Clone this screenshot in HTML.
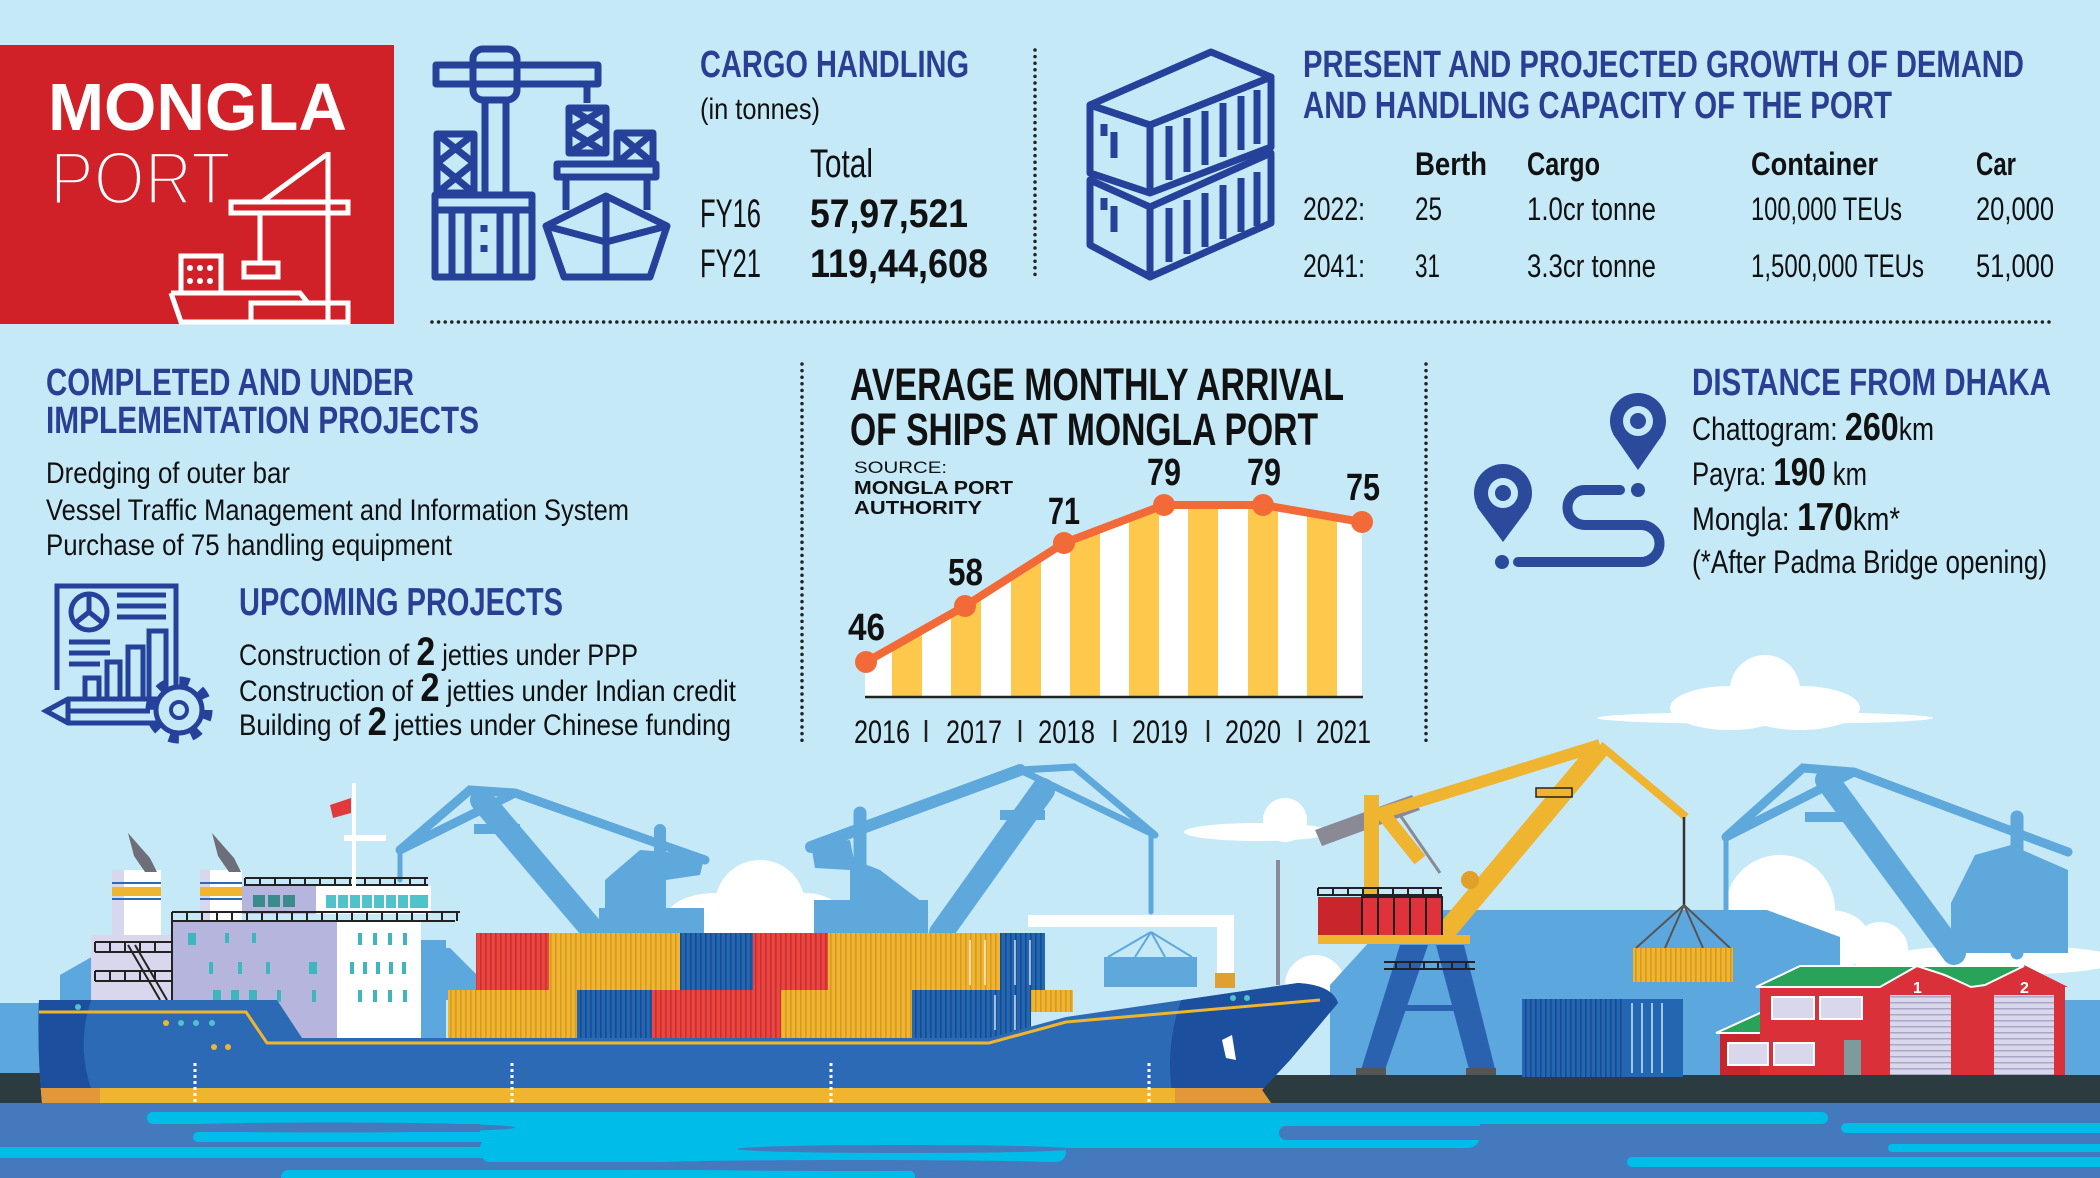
<!DOCTYPE html>
<html><head><meta charset="utf-8"><style>
html,body{margin:0;padding:0;background:#c6e9f8;}
svg{display:block;}
text{font-family:"Liberation Sans",Arial,sans-serif;}
</style></head><body>
<svg width="2100" height="1178" viewBox="0 0 2100 1178" xmlns="http://www.w3.org/2000/svg">
<defs>
<pattern id="pr" width="5" height="10" patternUnits="userSpaceOnUse"><rect width="5" height="10" fill="#ea4541"/><rect width="1.6" height="10" fill="#c7302f"/></pattern>
<pattern id="py" width="5" height="10" patternUnits="userSpaceOnUse"><rect width="5" height="10" fill="#efb430"/><rect width="1.6" height="10" fill="#d69a22"/></pattern>
<pattern id="pb" width="5" height="10" patternUnits="userSpaceOnUse"><rect width="5" height="10" fill="#2367b2"/><rect width="1.6" height="10" fill="#174a8e"/></pattern>
<pattern id="pd" width="6" height="6" patternUnits="userSpaceOnUse"><rect width="6" height="6" fill="#d9d7ec"/><rect width="6" height="1.5" fill="#a9a7c8"/></pattern>
<clipPath id="area"><polygon points="865,697 865,662 964,607 1063,544 1164,506 1263,506 1362,522 1362,697"/></clipPath>
<clipPath id="hullc"><path d="M39,1000 L277,1000 L302,1038 L989,1038 L1066,1017 L1298,983 Q1332,985 1338,1003 L1290,1060 L1262,1090 L1271,1103 L42,1103 Q37,1050 39,1000 Z"/></clipPath>
</defs>
<rect width="2100" height="1178" fill="#c6e9f8"/>

<!-- ===== RED TITLE BOX ===== -->
<rect x="0" y="45" width="394" height="279" fill="#d12128"/>
<text x="48" y="130" font-size="67" font-weight="bold" fill="#fff" textLength="299" lengthAdjust="spacingAndGlyphs">MONGLA</text>
<text x="50" y="204" font-size="75" fill="#fff" stroke="#d12128" stroke-width="3.5" textLength="181" lengthAdjust="spacingAndGlyphs">PORT</text>
<g stroke="#fff" stroke-width="5" fill="none">
<line x1="328" y1="152" x2="328" y2="322"/>
<rect x="231" y="202" width="117" height="11"/>
<line x1="262" y1="202" x2="326" y2="155"/>
<line x1="260" y1="213" x2="260" y2="263"/>
<rect x="244" y="263" width="34" height="14"/>
<rect x="251" y="303" width="97" height="19"/>
<rect x="181" y="256" width="40" height="37"/>
<path d="M171,293 H300 L308,303 M171,293 L181,322 H251"/>
</g>
<g fill="#fff"><circle cx="190" cy="268" r="3"/><circle cx="200" cy="268" r="3"/><circle cx="210" cy="268" r="3"/><circle cx="190" cy="281" r="3"/><circle cx="200" cy="281" r="3"/><circle cx="210" cy="281" r="3"/></g>

<!-- ===== CARGO CRANE ICON ===== -->
<g stroke="#26419a" stroke-width="7" fill="none" stroke-linejoin="round">
<rect x="436" y="65" width="162" height="19"/>
<rect x="473" y="49" width="44" height="51" rx="10"/>
<line x1="485" y1="100" x2="485" y2="193"/><line x1="506" y1="100" x2="506" y2="193"/>
<rect x="437" y="134" width="37" height="59"/>
<path d="M437,134 L474,163 M474,134 L437,163 M437,163 L474,193 M474,163 L437,193"/>
<rect x="435" y="195" width="97" height="82"/>
<line x1="435" y1="210" x2="532" y2="210"/>
<path d="M452,212 V277 M468,212 V277 M500,212 V277 M516,212 V277 M484,225 V232 M484,245 V252"/>
<line x1="587" y1="84" x2="587" y2="103"/>
<rect x="569" y="108" width="37" height="45"/>
<path d="M569,108 L606,130 M606,108 L569,130 M569,130 L606,153 M606,130 L569,153"/>
<rect x="617" y="133" width="36" height="30"/>
<path d="M617,133 L653,163 M653,133 L617,163"/>
<rect x="557" y="164" width="99" height="13"/>
<line x1="566" y1="177" x2="566" y2="210"/><line x1="647" y1="177" x2="647" y2="210"/>
<path d="M546,226 L606,196 L667,226 L650,277 L564,277 Z"/>
<path d="M606,196 V277 M546,226 L606,242 L667,226"/>
</g>

<text x="700" y="77" font-size="38" font-weight="bold" fill="#2a3f93" textLength="269" lengthAdjust="spacingAndGlyphs">CARGO HANDLING</text>
<text x="700" y="119" font-size="30" fill="#111" textLength="120" lengthAdjust="spacingAndGlyphs">(in tonnes)</text>
<text x="810" y="177" font-size="40" fill="#111" textLength="63" lengthAdjust="spacingAndGlyphs">Total</text>
<text x="700" y="227" font-size="40" fill="#111" textLength="61" lengthAdjust="spacingAndGlyphs">FY16</text>
<text x="810" y="227" font-size="40" font-weight="bold" fill="#111" textLength="158" lengthAdjust="spacingAndGlyphs">57,97,521</text>
<text x="700" y="277" font-size="40" fill="#111" textLength="61" lengthAdjust="spacingAndGlyphs">FY21</text>
<text x="810" y="277" font-size="40" font-weight="bold" fill="#111" textLength="178" lengthAdjust="spacingAndGlyphs">119,44,608</text>

<!-- dotted lines -->
<g stroke="#222" stroke-width="3.5" stroke-linecap="round" stroke-dasharray="0 6.6">
<line x1="1035" y1="50" x2="1035" y2="277"/>
<line x1="432" y1="322" x2="2054" y2="322"/>
<line x1="802" y1="364" x2="802" y2="743"/>
<line x1="1426" y1="364" x2="1426" y2="743"/>
</g>

<!-- ===== CONTAINER ICON ===== -->
<g stroke="#26419a" stroke-width="7" fill="none" stroke-linejoin="round">
<polygon points="1090,180 1150,207 1271,153 1271,223 1150,277 1090,245"/>
<line x1="1150" y1="207" x2="1150" y2="277"/>
<polygon points="1090,105 1211,52 1271,77 1150,125"/>
<polygon points="1090,105 1150,125 1271,77 1271,147 1150,193 1090,173"/>
<line x1="1150" y1="125" x2="1150" y2="193"/>
<path d="M1169,126 V180 M1187,118 V172 M1205,111 V165 M1223,103 V157 M1241,96 V150 M1257,90 V144"/>
<path d="M1169,208 V262 M1187,200 V254 M1205,193 V247 M1223,185 V239 M1241,178 V232 M1257,172 V226"/>
<path d="M1104,124 V136 M1114,132 V158 M1104,198 V210 M1114,206 V232"/>
</g>

<text x="1303" y="77" font-size="38" font-weight="bold" fill="#2a3f93" textLength="721" lengthAdjust="spacingAndGlyphs">PRESENT AND PROJECTED GROWTH OF DEMAND</text>
<text x="1303" y="118" font-size="38" font-weight="bold" fill="#2a3f93" textLength="589" lengthAdjust="spacingAndGlyphs">AND HANDLING CAPACITY OF THE PORT</text>
<g font-size="32" fill="#111">
<text x="1415" y="175" font-weight="bold" textLength="72" lengthAdjust="spacingAndGlyphs">Berth</text>
<text x="1527" y="175" font-weight="bold" textLength="73" lengthAdjust="spacingAndGlyphs">Cargo</text>
<text x="1751" y="175" font-weight="bold" textLength="127" lengthAdjust="spacingAndGlyphs">Container</text>
<text x="1976" y="175" font-weight="bold" textLength="40" lengthAdjust="spacingAndGlyphs">Car</text>
<text x="1303" y="220" textLength="62" lengthAdjust="spacingAndGlyphs">2022:</text>
<text x="1415" y="220" textLength="27" lengthAdjust="spacingAndGlyphs">25</text>
<text x="1527" y="220" textLength="129" lengthAdjust="spacingAndGlyphs">1.0cr tonne</text>
<text x="1751" y="220" textLength="151" lengthAdjust="spacingAndGlyphs">100,000 TEUs</text>
<text x="1976" y="220" textLength="78" lengthAdjust="spacingAndGlyphs">20,000</text>
<text x="1303" y="277" textLength="62" lengthAdjust="spacingAndGlyphs">2041:</text>
<text x="1415" y="277" textLength="25" lengthAdjust="spacingAndGlyphs">31</text>
<text x="1527" y="277" textLength="129" lengthAdjust="spacingAndGlyphs">3.3cr tonne</text>
<text x="1751" y="277" textLength="173" lengthAdjust="spacingAndGlyphs">1,500,000 TEUs</text>
<text x="1976" y="277" textLength="78" lengthAdjust="spacingAndGlyphs">51,000</text>
</g>

<!-- ===== PROJECTS ===== -->
<text x="46" y="395" font-size="38" font-weight="bold" fill="#2a3f93" textLength="368" lengthAdjust="spacingAndGlyphs">COMPLETED AND UNDER</text>
<text x="46" y="433" font-size="38" font-weight="bold" fill="#2a3f93" textLength="433" lengthAdjust="spacingAndGlyphs">IMPLEMENTATION PROJECTS</text>
<g font-size="30" fill="#111">
<text x="46" y="483" textLength="244" lengthAdjust="spacingAndGlyphs">Dredging of outer bar</text>
<text x="46" y="520" textLength="583" lengthAdjust="spacingAndGlyphs">Vessel Traffic Management and Information System</text>
<text x="46" y="555" textLength="406" lengthAdjust="spacingAndGlyphs">Purchase of 75 handling equipment</text>
</g>
<text x="239" y="615" font-size="39" font-weight="bold" fill="#2a3f93" textLength="324" lengthAdjust="spacingAndGlyphs">UPCOMING PROJECTS</text>
<g font-size="30" fill="#111">
<text x="239" y="665" textLength="399" lengthAdjust="spacingAndGlyphs">Construction of <tspan font-weight="bold" font-size="40">2</tspan> jetties under PPP</text>
<text x="239" y="701" textLength="497" lengthAdjust="spacingAndGlyphs">Construction of <tspan font-weight="bold" font-size="40">2</tspan> jetties under Indian credit</text>
<text x="239" y="735" textLength="492" lengthAdjust="spacingAndGlyphs">Building of <tspan font-weight="bold" font-size="40">2</tspan> jetties under Chinese funding</text>
</g>
<!-- upcoming icon -->
<g stroke="#26419a" stroke-width="5" fill="none">
<path d="M57,690 V586 H176 V690"/>
<circle cx="89" cy="612" r="18"/>
<path d="M89,594 V612 L74,624 M89,612 L104,624"/>
<path d="M117,595 H166 M117,606 H166 M117,617 H166 M69,642 H110 M69,653 H110 M69,664 H100"/>
<path d="M85,697 V678 H99 V697 M107,697 V662 H120 V697 M128,697 V647 H143 V697 M149,697 V631 H166 V697"/>
<path d="M46,711 L68,699 H165 V723 H68 Z M68,699 V723 M68,711 H150"/>
<circle cx="179" cy="710" r="23" fill="#c6e9f8"/>
<circle cx="179" cy="710" r="29" stroke-width="9" stroke-dasharray="10 12.8"/>
<circle cx="179" cy="710" r="8" stroke-width="4"/>
</g>

<!-- ===== CHART ===== -->
<text x="850" y="400" font-size="45" font-weight="bold" fill="#111" textLength="494" lengthAdjust="spacingAndGlyphs">AVERAGE MONTHLY ARRIVAL</text>
<text x="850" y="445" font-size="45" font-weight="bold" fill="#111" textLength="468" lengthAdjust="spacingAndGlyphs">OF SHIPS AT MONGLA PORT</text>
<text x="854" y="473" font-size="17" fill="#111" textLength="93" lengthAdjust="spacingAndGlyphs">SOURCE:</text>
<text x="854" y="494" font-size="18" font-weight="bold" fill="#111" textLength="159" lengthAdjust="spacingAndGlyphs">MONGLA PORT</text>
<text x="854" y="514" font-size="18" font-weight="bold" fill="#111" textLength="128" lengthAdjust="spacingAndGlyphs">AUTHORITY</text>
<g clip-path="url(#area)">
<rect x="865" y="480" width="498" height="217" fill="#fff"/>
<g fill="#fdc84b">
<rect x="892" y="480" width="30" height="217"/><rect x="951" y="480" width="30" height="217"/><rect x="1011" y="480" width="30" height="217"/><rect x="1070" y="480" width="30" height="217"/><rect x="1129" y="480" width="30" height="217"/><rect x="1188" y="480" width="30" height="217"/><rect x="1248" y="480" width="30" height="217"/><rect x="1307" y="480" width="30" height="217"/>
</g></g>
<line x1="865" y1="697" x2="1363" y2="697" stroke="#222" stroke-width="2.5"/>
<polyline points="866,662 965,606 1064,543 1164,505 1263,505 1362,522" fill="none" stroke="#f26a37" stroke-width="8" stroke-linejoin="round"/>
<g fill="#f26a37"><circle cx="866" cy="662" r="11"/><circle cx="965" cy="606" r="11"/><circle cx="1064" cy="543" r="11"/><circle cx="1164" cy="505" r="11"/><circle cx="1263" cy="505" r="11"/><circle cx="1362" cy="522" r="11"/></g>
<g font-size="38" font-weight="bold" fill="#111">
<text x="848" y="640" textLength="37" lengthAdjust="spacingAndGlyphs">46</text>
<text x="948" y="585" textLength="35" lengthAdjust="spacingAndGlyphs">58</text>
<text x="1048" y="524" textLength="32" lengthAdjust="spacingAndGlyphs">71</text>
<text x="1147" y="485" textLength="34" lengthAdjust="spacingAndGlyphs">79</text>
<text x="1247" y="485" textLength="34" lengthAdjust="spacingAndGlyphs">79</text>
<text x="1346" y="500" textLength="34" lengthAdjust="spacingAndGlyphs">75</text>
</g>
<g font-size="32" fill="#111">
<text x="854" y="743" textLength="56" lengthAdjust="spacingAndGlyphs">2016</text>
<text x="946" y="743" textLength="56" lengthAdjust="spacingAndGlyphs">2017</text>
<text x="1038" y="743" textLength="57" lengthAdjust="spacingAndGlyphs">2018</text>
<text x="1132" y="743" textLength="56" lengthAdjust="spacingAndGlyphs">2019</text>
<text x="1225" y="743" textLength="56" lengthAdjust="spacingAndGlyphs">2020</text>
<text x="1316" y="743" textLength="55" lengthAdjust="spacingAndGlyphs">2021</text>
</g>
<g stroke="#222" stroke-width="2.5"><line x1="926" y1="720" x2="926" y2="742"/><line x1="1020" y1="720" x2="1020" y2="742"/><line x1="1115" y1="720" x2="1115" y2="742"/><line x1="1208" y1="720" x2="1208" y2="742"/><line x1="1300" y1="720" x2="1300" y2="742"/></g>

<!-- ===== DISTANCE ===== -->
<text x="1692" y="395" font-size="38" font-weight="bold" fill="#2a3f93" textLength="359" lengthAdjust="spacingAndGlyphs">DISTANCE FROM DHAKA</text>
<g font-size="32" fill="#111">
<text x="1692" y="440" textLength="242" lengthAdjust="spacingAndGlyphs">Chattogram: <tspan font-weight="bold" font-size="39">260</tspan>km</text>
<text x="1692" y="485" textLength="175" lengthAdjust="spacingAndGlyphs">Payra: <tspan font-weight="bold" font-size="39">190</tspan> km</text>
<text x="1692" y="530" textLength="208" lengthAdjust="spacingAndGlyphs">Mongla: <tspan font-weight="bold" font-size="39">170</tspan>km*</text>
<text x="1692" y="573" textLength="355" lengthAdjust="spacingAndGlyphs">(*After Padma Bridge opening)</text>
</g>
<g fill="#2b4a9c">
<circle cx="1638" cy="421" r="28"/><polygon points="1613,434 1663,434 1638,470"/>
<circle cx="1503" cy="493" r="29"/><polygon points="1477,507 1529,507 1503,542"/>
<circle cx="1502" cy="562" r="7"/><circle cx="1638" cy="490" r="7"/>
</g>
<g fill="#c6e9f8"><circle cx="1638" cy="421" r="15"/><circle cx="1503" cy="493" r="15"/></g>
<g fill="#2b4a9c"><circle cx="1638" cy="421" r="8"/><circle cx="1503" cy="493" r="8"/></g>
<path d="M1518,562 H1641 A18.5,18.5 0 0 0 1641,525 H1585 A17.5,17.5 0 0 1 1585,490 H1620" fill="none" stroke="#2b4a9c" stroke-width="10" stroke-linecap="round"/>

<!-- ===== BOTTOM ILLUSTRATION ===== -->
<!-- clouds -->
<g fill="#fff">
<circle cx="1765" cy="690" r="35"/><ellipse cx="1730" cy="708" rx="60" ry="22"/><ellipse cx="1800" cy="708" rx="60" ry="22"/><ellipse cx="1765" cy="718" rx="168" ry="6"/>
<circle cx="760" cy="905" r="45"/><ellipse cx="715" cy="920" rx="50" ry="27"/><ellipse cx="805" cy="920" rx="40" ry="27"/>
<circle cx="1285" cy="820" r="22"/><ellipse cx="1258" cy="832" rx="74" ry="9"/>
<circle cx="1780" cy="910" r="55"/><ellipse cx="1830" cy="940" rx="40" ry="30"/>
<circle cx="1880" cy="950" r="28"/><ellipse cx="2000" cy="960" rx="120" ry="15"/>
<circle cx="1315" cy="985" r="30"/>
</g>
<!-- background buildings -->
<g fill="#5ca7dd">
<rect x="0" y="1003" width="40" height="72"/>
<polygon points="60,1003 60,975 95,955 175,955 175,1003"/>
<polygon points="421,1000 421,948 450,948 477,975 477,1000"/>
<polygon points="1330,1075 1330,985 1371,940 1371,910 1767,910 1840,937 1840,1075"/>
<rect x="2060" y="1000" width="40" height="75"/>
</g>
<!-- light-blue cranes -->
<g stroke="#5ea8dc" fill="none" stroke-linecap="round">
<line x1="400" y1="850" x2="400" y2="880" stroke-width="5"/>
<path d="M400,850 L470,790 L515,793 L705,860 M400,850 L515,793" stroke-width="9"/>
<line x1="482" y1="800" x2="595" y2="933" stroke-width="24"/>
<line x1="660" y1="830" x2="660" y2="933" stroke-width="12"/>
<line x1="811" y1="847" x2="1020" y2="770" stroke-width="12"/>
<path d="M1020,770 L1074,767 L1155,835 M1020,770 L1155,835" stroke-width="7"/>
<line x1="1151" y1="835" x2="1151" y2="912" stroke-width="5"/>
<line x1="1043" y1="790" x2="941" y2="933" stroke-width="24"/>
<line x1="860" y1="813" x2="860" y2="933" stroke-width="13"/>
<line x1="1726" y1="837" x2="1726" y2="910" stroke-width="5"/>
<path d="M1726,837 L1803,768 L1854,772 L2068,852 M1726,837 L1854,772" stroke-width="9"/>
<line x1="1827" y1="780" x2="1954" y2="953" stroke-width="24"/>
<line x1="2017" y1="817" x2="2017" y2="953" stroke-width="13"/>
</g>
<g fill="#5ea8dc">
<polygon points="605,933 605,880 640,850 705,855 700,875 666,880 666,933"/>
<rect x="599" y="908" width="105" height="25"/>
<rect x="474" y="824" width="46" height="10"/>
<polygon points="811,845 850,840 854,860 880,870 926,905 928,933 850,933 850,870 815,868"/>
<rect x="814" y="900" width="114" height="33"/>
<rect x="1000" y="810" width="45" height="10"/>
<rect x="1951" y="903" width="117" height="50"/>
<polygon points="1951,903 1975,855 2011,845 2068,870 2068,903"/>
<rect x="1805" y="812" width="45" height="10"/>
</g>
<!-- dock -->
<rect x="0" y="1073" width="47" height="30" fill="#2c3b3f"/>
<rect x="1252" y="1075" width="848" height="28" fill="#2c3b3f"/>

<!-- containers -->
<rect x="476" y="933" width="73" height="57" fill="url(#pr)"/>
<rect x="549" y="933" width="131" height="57" fill="url(#py)"/>
<rect x="680" y="933" width="73" height="57" fill="url(#pb)"/>
<rect x="753" y="933" width="75" height="57" fill="url(#pr)"/>
<rect x="828" y="933" width="130" height="57" fill="url(#py)"/>
<rect x="958" y="933" width="42" height="57" fill="url(#py)"/>
<rect x="1000" y="933" width="45" height="57" fill="url(#pb)"/>
<rect x="448" y="990" width="129" height="48" fill="url(#py)"/>
<rect x="577" y="990" width="75" height="48" fill="url(#pb)"/>
<rect x="652" y="990" width="129" height="48" fill="url(#pr)"/>
<rect x="781" y="990" width="131" height="48" fill="url(#py)"/>
<rect x="912" y="990" width="74" height="48" fill="url(#pb)"/>
<rect x="986" y="990" width="45" height="48" fill="url(#pb)"/>
<rect x="1031" y="990" width="42" height="22" fill="url(#py)"/>
<g stroke="#fff" stroke-width="1.5" opacity="0.8"><path d="M970,940 V985 M985,940 V985 M1015,940 V985 M1030,940 V985 M995,995 V1030 M1015,995 V1030"/></g>

<!-- white gantry near bow -->
<rect x="1028" y="915" width="203" height="12" fill="#fff"/>
<rect x="1217" y="915" width="17" height="58" fill="#fff"/>
<rect x="1104" y="957" width="93" height="30" fill="#5ea8dc"/>
<path d="M1151,932 L1108,957 M1151,932 L1192,957 M1151,932 L1135,957 M1151,932 L1165,957" stroke="#5ea8dc" stroke-width="2" fill="none"/>
<line x1="1278" y1="860" x2="1278" y2="985" stroke="#8a8a9a" stroke-width="4"/>
<rect x="1215" y="973" width="20" height="15" fill="#e0a030"/>

<!-- superstructure -->
<rect x="112" y="870" width="49" height="130" fill="#fff"/>
<rect x="112" y="870" width="12" height="130" fill="#d8d7ee"/>
<rect x="200" y="870" width="42" height="130" fill="#fff"/>
<rect x="200" y="870" width="10" height="130" fill="#d8d7ee"/>
<g fill="#efb430"><rect x="112" y="887" width="49" height="9"/><rect x="200" y="887" width="42" height="9"/></g>
<g fill="#2c6ab5"><rect x="112" y="882" width="49" height="2"/><rect x="112" y="898" width="49" height="2"/><rect x="200" y="882" width="42" height="2"/><rect x="200" y="898" width="42" height="2"/></g>
<g fill="#6e6e7a"><polygon points="128,833 150,858 157,872 145,872 134,856"/><polygon points="212,833 234,858 241,872 229,872 218,856"/></g>
<rect x="91" y="935" width="81" height="65" fill="#d8d7ee"/>
<rect x="172" y="920" width="165" height="118" fill="#b6b5de"/>
<rect x="337" y="920" width="84" height="118" fill="#fff"/>
<rect x="421" y="940" width="25" height="98" fill="#5ca7dd"/>
<rect x="242" y="886" width="74" height="28" fill="#b6b5de"/>
<rect x="316" y="886" width="115" height="28" fill="#fff"/>
<g fill="#3b8a8c"><rect x="253" y="895" width="12" height="12"/><rect x="268" y="895" width="12" height="12"/><rect x="283" y="895" width="12" height="12"/></g>
<rect x="326" y="895" width="102" height="13" fill="#4fc3c9"/>
<g stroke="#fff" stroke-width="2"><path d="M337,895 V908 M349,895 V908 M361,895 V908 M373,895 V908 M385,895 V908 M397,895 V908 M409,895 V908"/></g>
<g fill="#3fb5bd"><rect x="188" y="933" width="8" height="12"/><rect x="225" y="933" width="4" height="10"/><rect x="252" y="933" width="4" height="10"/><rect x="358" y="933" width="4" height="12"/><rect x="373" y="933" width="4" height="12"/><rect x="388" y="933" width="4" height="12"/><rect x="403" y="933" width="4" height="12"/>
<rect x="209" y="962" width="4" height="12"/><rect x="238" y="962" width="4" height="12"/><rect x="266" y="962" width="4" height="12"/><rect x="309" y="962" width="8" height="12"/><rect x="350" y="962" width="4" height="12"/><rect x="363" y="962" width="4" height="12"/><rect x="376" y="962" width="4" height="12"/><rect x="389" y="962" width="4" height="12"/><rect x="402" y="962" width="4" height="12"/>
<rect x="213" y="990" width="8" height="12"/><rect x="231" y="990" width="8" height="12"/><rect x="249" y="990" width="8" height="12"/><rect x="277" y="990" width="4" height="12"/><rect x="312" y="990" width="4" height="12"/><rect x="358" y="990" width="4" height="12"/><rect x="373" y="990" width="4" height="12"/><rect x="388" y="990" width="4" height="12"/><rect x="403" y="990" width="4" height="12"/></g>
<g stroke="#222" stroke-width="2" fill="none">
<path d="M245,878 H428 M245,885 H428" /><path d="M245,878 V886 M260,878 V886 M275,878 V886 M290,878 V886 M305,878 V886 M320,878 V886 M335,878 V886 M350,878 V886 M365,878 V886 M380,878 V886 M395,878 V886 M410,878 V886 M425,878 V886"/>
<path d="M172,912 H460 M172,921 H455"/><path d="M172,912 V921 M187,912 V921 M202,912 V921 M217,912 V921 M232,912 V921 M247,912 V921 M262,912 V921 M277,912 V921 M292,912 V921 M307,912 V921 M322,912 V921 M337,912 V921 M352,912 V921 M367,912 V921 M382,912 V921 M397,912 V921 M412,912 V921 M427,912 V921 M442,912 V921 M457,912 V921"/>
<path d="M95,942 H172 M95,952 H172 M95,971 H172 M95,981 H172 M95,942 V952 M110,942 V952 M125,942 V952 M140,942 V952 M155,942 V952 M95,971 V981 M110,971 V981 M125,971 V981 M140,971 V981 M155,971 V981"/>
<path d="M128,945 L160,1000 M135,945 L167,1000 M172,920 V1000"/>
</g>
<line x1="354" y1="783" x2="354" y2="887" stroke="#fff" stroke-width="4"/>
<rect x="344" y="835" width="42" height="6" fill="#fff"/>
<polygon points="330,805 351,798 351,813 333,818" fill="#e03a3a"/>

<!-- hull -->
<path d="M39,1000 L277,1000 L302,1038 L989,1038 L1066,1017 L1298,983 Q1332,985 1338,1003 L1290,1060 L1262,1090 L1271,1103 L42,1103 Q37,1050 39,1000 Z" fill="#2c6ab5"/>
<g clip-path="url(#hullc)">
<path d="M30,990 L95,990 Q70,1050 100,1110 L30,1110 Z" fill="#1c4f9e"/>
<path d="M1190,980 L1350,980 L1350,1110 L1175,1110 Q1160,1040 1190,980 Z" fill="#1c4f9e"/>
<rect x="0" y="1088" width="1400" height="16" fill="#f0b52e"/>
<rect x="0" y="1088" width="100" height="16" fill="#e0983a"/>
<rect x="1175" y="1088" width="200" height="16" fill="#e0983a"/>
</g>
<polyline points="39,1012 246,1012 267,1043 989,1043 1066,1022 1320,1000" fill="none" stroke="#f0b52e" stroke-width="3"/>
<g fill="#f0b52e"><circle cx="166" cy="1023" r="3"/><circle cx="214" cy="1047" r="3"/><circle cx="228" cy="1047" r="3"/></g>
<g fill="#4fc3c9"><circle cx="181" cy="1023" r="3"/><circle cx="196" cy="1023" r="3"/><circle cx="212" cy="1023" r="3"/><circle cx="78" cy="1007" r="3"/><circle cx="1233" cy="998" r="3"/><circle cx="1247" cy="998" r="3"/></g>
<g stroke="#fff" stroke-width="3" stroke-dasharray="3 3"><line x1="195" y1="1063" x2="195" y2="1103"/><line x1="512" y1="1063" x2="512" y2="1103"/><line x1="831" y1="1063" x2="831" y2="1103"/><line x1="1149" y1="1063" x2="1149" y2="1103"/></g>
<polygon points="1222,1040 1232,1035 1236,1060 1226,1058" fill="#fff"/>

<!-- yellow crane -->
<polygon points="1315,830 1412,795 1420,810 1322,846" fill="#8a8a96"/>
<rect x="1364" y="795" width="15" height="105" fill="#efb430"/>
<line x1="1375" y1="815" x2="1600" y2="745" stroke="#efb430" stroke-width="12"/>
<line x1="1443" y1="935" x2="1600" y2="748" stroke="#efb430" stroke-width="20"/>
<line x1="1600" y1="745" x2="1686" y2="817" stroke="#efb430" stroke-width="8"/>
<line x1="1420" y1="860" x2="1380" y2="810" stroke="#efb430" stroke-width="14"/>
<line x1="1440" y1="873" x2="1400" y2="815" stroke="#8a8a96" stroke-width="3"/>
<circle cx="1470" cy="880" r="9" fill="#e0a02a"/>
<line x1="1684" y1="817" x2="1684" y2="905" stroke="#333" stroke-width="2.5"/>
<rect x="1536" y="788" width="36" height="9" fill="#efb430" stroke="#222" stroke-width="1.5"/>
<rect x="1318" y="897" width="124" height="40" fill="#c9252c"/>
<rect x="1362" y="897" width="80" height="40" fill="#e0323a" stroke="#222" stroke-width="2"/>
<path d="M1378,897 V937 M1394,897 V937 M1410,897 V937 M1426,897 V937" stroke="#222" stroke-width="2"/>
<path d="M1318,888 H1442 M1318,895 H1442 M1318,888 V896 M1333,888 V896 M1348,888 V896 M1363,888 V896 M1378,888 V896 M1393,888 V896 M1408,888 V896 M1423,888 V896 M1438,888 V896" stroke="#222" stroke-width="2" fill="none"/>
<rect x="1318" y="935" width="152" height="9" fill="#efb430"/>
<g fill="#2a62b0">
<polygon points="1400,945 1428,945 1384,1073 1360,1073"/>
<polygon points="1436,945 1464,945 1496,1073 1470,1073"/>
<rect x="1395" y="1005" width="75" height="6"/>
</g>
<g fill="#555"><rect x="1356" y="1068" width="30" height="7"/><rect x="1466" y="1068" width="30" height="7"/></g>
<path d="M1384,962 H1475 M1384,969 H1475 M1396,962 V969 M1410,962 V969 M1424,962 V969 M1438,962 V969 M1452,962 V969 M1466,962 V969" stroke="#222" stroke-width="2" fill="none"/>
<path d="M1684,905 L1636,948 M1684,905 L1730,948 M1684,905 L1665,948 M1684,905 L1703,948" stroke="#555" stroke-width="2" fill="none"/>
<rect x="1633" y="948" width="100" height="34" fill="url(#py)"/>

<!-- dock container -->
<rect x="1522" y="999" width="100" height="78" fill="url(#pb)"/>
<rect x="1622" y="999" width="61" height="78" fill="#2367b2"/>
<path d="M1632,1003 V1073 M1642,1003 V1073 M1652,1003 V1073 M1662,1003 V1073" stroke="#9cc7ef" stroke-width="2"/>

<!-- warehouse -->
<rect x="1720" y="1030" width="150" height="45" fill="#c9252c"/>
<polygon points="1716,1033 1760,1013 1870,1013 1820,1033" fill="#2aa35a" stroke="#fff" stroke-width="2"/>
<rect x="1760" y="987" width="305" height="88" fill="#d9303a"/>
<polygon points="1862,987 1917,965 1971,987 2024,965 2068,987" fill="#d9303a"/>
<polygon points="1756,987 1800,966 1917,966 1880,987" fill="#2aa35a" stroke="#fff" stroke-width="2"/>
<polygon points="1917,966 2024,966 1985,985 1971,987 1945,975" fill="#2aa35a" stroke="#fff" stroke-width="2"/>
<rect x="1890" y="995" width="61" height="80" fill="url(#pd)"/>
<rect x="1994" y="995" width="60" height="80" fill="url(#pd)"/>
<rect x="1844" y="1040" width="17" height="35" fill="#7d9a9e"/>
<g fill="#d9d7ec" stroke="#fff" stroke-width="2"><rect x="1772" y="997" width="42" height="22"/><rect x="1820" y="997" width="42" height="22"/><rect x="1728" y="1043" width="40" height="22"/><rect x="1774" y="1043" width="40" height="22"/></g>
<text x="1913" y="993" font-size="16" font-weight="bold" fill="#fff">1</text>
<text x="2020" y="993" font-size="16" font-weight="bold" fill="#fff">2</text>

<!-- water -->
<rect x="0" y="1103" width="2100" height="75" fill="#4479bd"/>
<g fill="#00bce8">
<rect x="147" y="1112" width="1681" height="12" rx="6"/>
<rect x="480" y="1112" width="1000" height="36" rx="12"/>
<rect x="480" y="1138" width="586" height="24" rx="10"/>
<rect x="193" y="1132" width="400" height="10" rx="5"/>
<rect x="-10" y="1147" width="760" height="11" rx="5.5"/>
<rect x="281" y="1170" width="634" height="14" rx="7"/>
</g>
<g fill="#4479bd">
<ellipse cx="330" cy="1127.5" rx="185" ry="5"/>
<rect x="1279" y="1126" width="900" height="14" rx="7"/>
<ellipse cx="905" cy="1149" rx="168" ry="4"/>
<ellipse cx="855" cy="1165.5" rx="252" ry="5.5"/>
</g>
<g fill="#00bce8">
<rect x="1841" y="1123" width="280" height="10" rx="5"/>
<rect x="1888" y="1144" width="230" height="8" rx="4"/>
<rect x="1627" y="1157" width="490" height="10" rx="5"/>
</g>
</svg>
</body></html>
